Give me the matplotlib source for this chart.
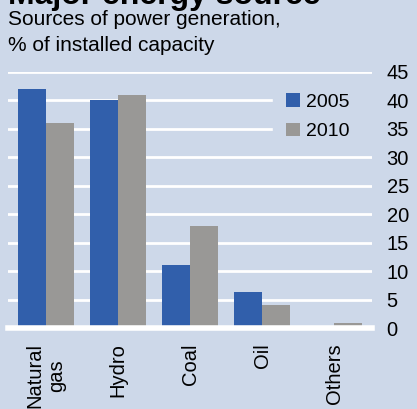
import matplotlib.pyplot as plt
import numpy as np

plt.rcParams['font.family'] = ['Liberation Sans', 'DejaVu Sans']

categories = ['Natural\ngas', 'Hydro', 'Coal', 'Oil', 'Others']
values_2005 = [42, 40, 11, 6.3, 0.2]
values_2010 = [36, 41, 18, 4, 0.8]
yticks = [0, 5, 10, 15, 20, 25, 30, 35, 40, 45]

bg = '#cdd8e9'
blue = '#315fab'
grey = '#999896'

fig = plt.figure(figsize=(4.17, 4.09), dpi=100, facecolor=bg)
ax = fig.add_axes([0.0192, 0.198, 0.873, 0.626], facecolor=bg)

x = np.arange(len(categories))
w = 0.389
ax.bar(x - w / 2, values_2005, w, color=blue, label='2005', zorder=3)
ax.bar(x + w / 2, values_2010, w, color=grey, label='2010', zorder=3)

ax.set_xlim(-0.528, 4.528)
ax.set_ylim(0, 45)
ax.set_yticks(yticks)
ax.yaxis.tick_right()
ax.tick_params(axis='y', length=0, labelsize=14.5, pad=10.5)
ax.tick_params(axis='x', length=0, labelsize=14.5, pad=11)
ax.set_xticks(x)
ax.set_xticklabels(categories, rotation=90, va='top', ha='center')
ax.grid(axis='y', color='white', linewidth=2, zorder=1)
ax.axhline(0, color='white', linewidth=4, zorder=4, clip_on=False)
for s in ax.spines.values():
    s.set_visible(False)

# legend box hides the grid lines behind it, as in the original
leg = ax.legend(loc='upper left', bbox_to_anchor=(0.729, 0.968, 0.271, 0.0),
                mode='expand', frameon=True, fancybox=False,
                facecolor=bg, edgecolor=bg, framealpha=1, fontsize=14,
                handlelength=0.72, handleheight=0.72, handletextpad=0.3,
                labelspacing=0.62, borderaxespad=0.0, borderpad=0.65)

fig.text(0.02, 0.990, 'Major energy source', fontsize=23, fontweight='bold',
         va='baseline', ha='left')
fig.text(0.018, 0.953, 'Sources of power generation,', fontsize=15, va='center')
fig.text(0.018, 0.888, '% of installed capacity', fontsize=15, va='center')

fig.savefig('out.png', dpi=100, facecolor=bg)
